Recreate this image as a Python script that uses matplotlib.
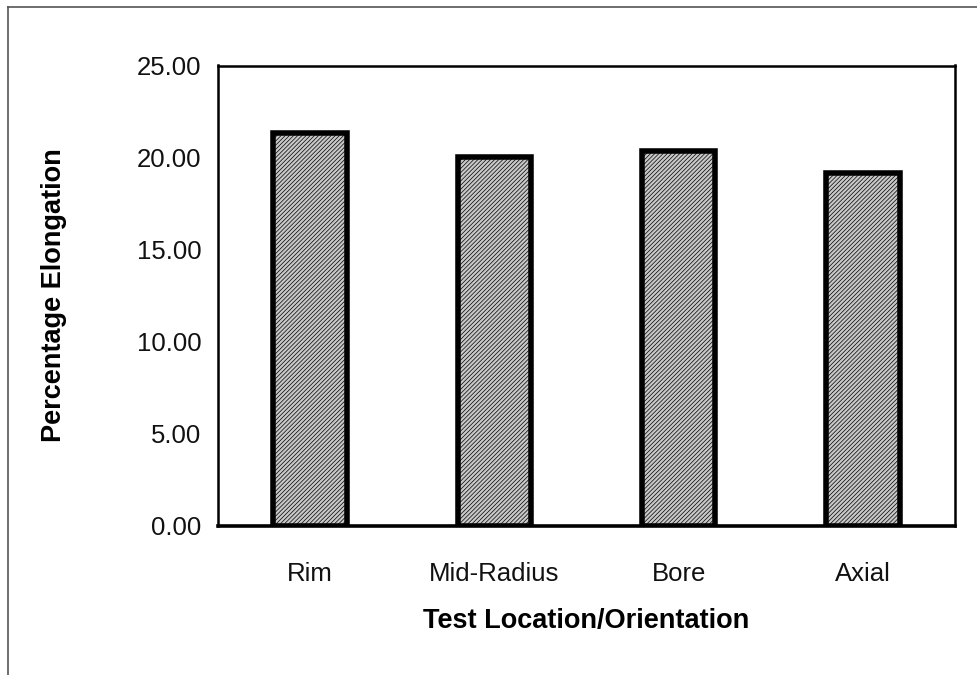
import matplotlib
matplotlib.use("Agg")
from matplotlib import pyplot as plt
from matplotlib.lines import Line2D

# values
locations = ["Rim", "Mid-Radius", "Bore", "Axial"]
elongation = [21.35, 20.0, 20.35, 19.15]
y_ticks = [0, 5, 10, 15, 20, 25]

plt.rcParams['font.family'] = ['Liberation Sans', 'DejaVu Sans']
plt.rcParams['hatch.color'] = '#8f8f8f'
plt.rcParams['hatch.linewidth'] = 0.5

fig = plt.figure(figsize=(9.77, 6.75), dpi=100)
ax = fig.add_axes([218 / 977, 1 - 525.5 / 675, 737 / 977, 460 / 675])

x = range(len(locations))
ax.bar(x, elongation, width=0.4, color='#c8c8c8', edgecolor='black',
       linewidth=4, hatch='////////', zorder=3)

ax.set_xlim(-0.5, len(locations) - 0.5)
ax.set_ylim(0, 25)
ax.set_yticks(y_ticks)
ax.set_yticklabels(["%.2f" % v for v in y_ticks])
ax.set_xticks(list(x))
ax.set_xticklabels(locations)
ax.tick_params(axis='both', length=0, labelsize=18.5, colors='#111111')
ax.tick_params(axis='y', pad=12)
ax.tick_params(axis='x', pad=26)

for side in ['top', 'right', 'left']:
    ax.spines[side].set_linewidth(1.8)
ax.spines['bottom'].set_linewidth(2.6)

ax.set_ylabel("Percentage Elongation", fontsize=19.5, fontweight='bold', labelpad=50)
ax.set_xlabel("Test Location/Orientation", fontsize=19.5, fontweight='bold', labelpad=16)

# thin frame lines of the scanned page
fig.add_artist(Line2D([8 / 977, 1], [1 - 7 / 675, 1 - 7 / 675],
                      transform=fig.transFigure, color='#555555', linewidth=1.2))
fig.add_artist(Line2D([8 / 977, 8 / 977], [0, 1 - 7 / 675],
                      transform=fig.transFigure, color='#555555', linewidth=1.2))

fig.savefig("out.png", dpi=100)
